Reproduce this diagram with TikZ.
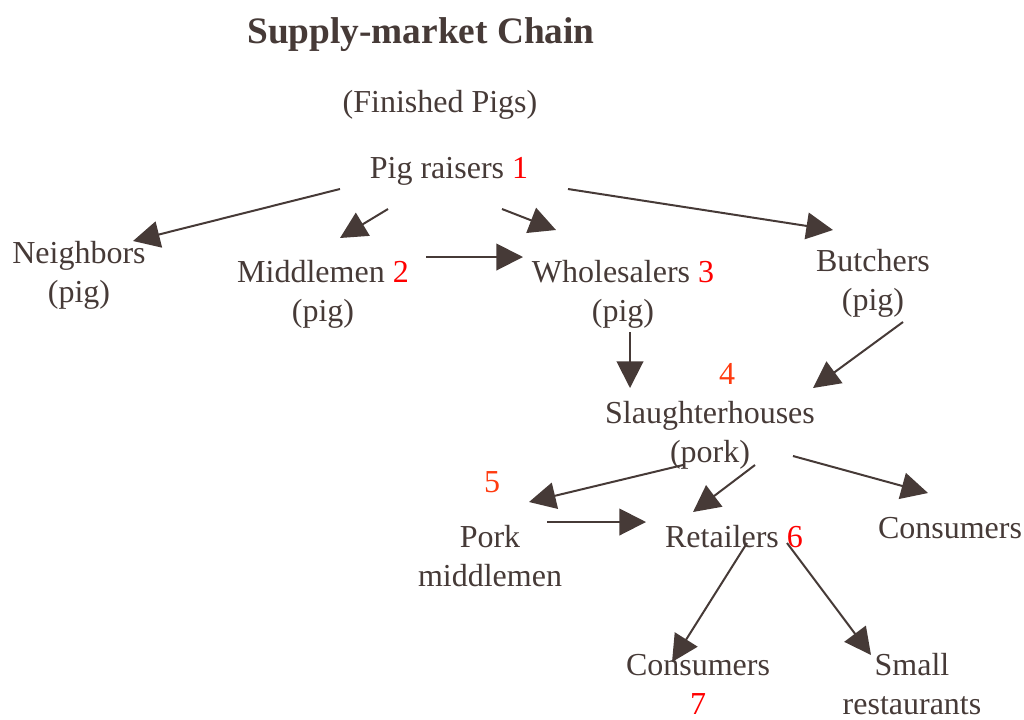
\documentclass[tikz,border=0pt]{standalone}
\usepackage{fontspec}
\setmainfont{Liberation Serif}
\usepackage{tikz}
\usetikzlibrary{arrows.meta}
\definecolor{chainText}{HTML}{463A37}
\definecolor{stepRed}{HTML}{FF0000}
\definecolor{stepOrange}{HTML}{FF3B10}

\tikzset{
  actor/.style={anchor=base, inner sep=0pt, align=center, text=chainText,
    font=\fontsize{24}{28.8}\selectfont},
  stepno/.style={anchor=base, inner sep=0pt, text=stepOrange,
    font=\fontsize{24}{28.8}\selectfont},
  flow/.style={draw=chainText, line width=1.5pt,
    -{Triangle[length=20pt, width=20pt]}}
}
\newcommand{\no}[1]{\textcolor{stepRed}{#1}}

\begin{document}
\begin{tikzpicture}[x=0.75pt, y=-0.75pt]
        \useasboundingbox (0,0) rectangle (1024,719);
        % two-line nodes sit on the baseline of their last line
        \node[actor, font=\fontsize{28}{33}\selectfont\bfseries] (title) at (421,43) {Supply-market Chain};
        \node[actor] (fin) at (440,112) {(Finished Pigs)};
        \node[actor] (raise) at (449,178) {Pig raisers \no{1}};
        \node[actor] (nbr) at (79,302) {Neighbors\\(pig)};
        \node[actor] (mid) at (323,321) {Middlemen \no{2}\\(pig)};
        \node[actor] (whole) at (623,321) {Wholesalers \no{3}\\(pig)};
        \node[actor] (butch) at (873,310) {Butchers\\(pig)};
        \node[stepno] (four) at (727,384) {4};
        \node[actor] (slaugh) at (710,462) {Slaughterhouses\\(pork)};
        \node[stepno] (five) at (492,492) {5};
        \node[actor] (pork) at (490,586) {Pork\\middlemen};
        \node[actor] (retail) at (734,547) {Retailers \no{6}};
        \node[actor] (cons) at (950,538) {Consumers};
        \node[actor] (cons7) at (698,714) {Consumers\\\no{7}};
        \node[actor] (small) at (912,714) {Small\\restaurants};

        % pigs leaving the farm
        \draw[flow] ([shift={(-109,11)}]raise.base) -- ([shift={(54,-61)}]nbr.base);
        \draw[flow] ([shift={(-61,31)}]raise.base) -- ([shift={(17,-83)}]mid.base);
        \draw[flow] ([shift={(53,31)}]raise.base) -- ([shift={(-67,-91)}]whole.base);
        \draw[flow] ([shift={(119,11)}]raise.base) -- ([shift={(-40,-80)}]butch.base);
        \draw[flow] ([shift={(103,-64)}]mid.base) -- ([shift={(-100,-64)}]whole.base);
        % to the slaughterhouse
        \draw[flow] ([shift={(7,11)}]whole.base) -- ([shift={(-80,-74)}]slaugh.base);
        \draw[flow] ([shift={(30,12)}]butch.base) -- ([shift={(103,-74)}]slaugh.base);
        % pork
        \draw[flow] ([shift={(-27,3)}]slaugh.base) -- ([shift={(39,-84)}]pork.base);
        \draw[flow] ([shift={(45,3)}]slaugh.base) -- ([shift={(-41,-35)}]retail.base);
        \draw[flow] ([shift={(83,-6)}]slaugh.base) -- ([shift={(-22,-45)}]cons.base);
        \draw[flow] ([shift={(57,-64)}]pork.base) -- ([shift={(-88,-25)}]retail.base);
        \draw[flow] ([shift={(13,-4)}]retail.base) -- ([shift={(-26,-52)}]cons7.base);
        \draw[flow] ([shift={(53,-4)}]retail.base) -- ([shift={(-41,-59)}]small.base);
    \end{tikzpicture}
\end{document}
